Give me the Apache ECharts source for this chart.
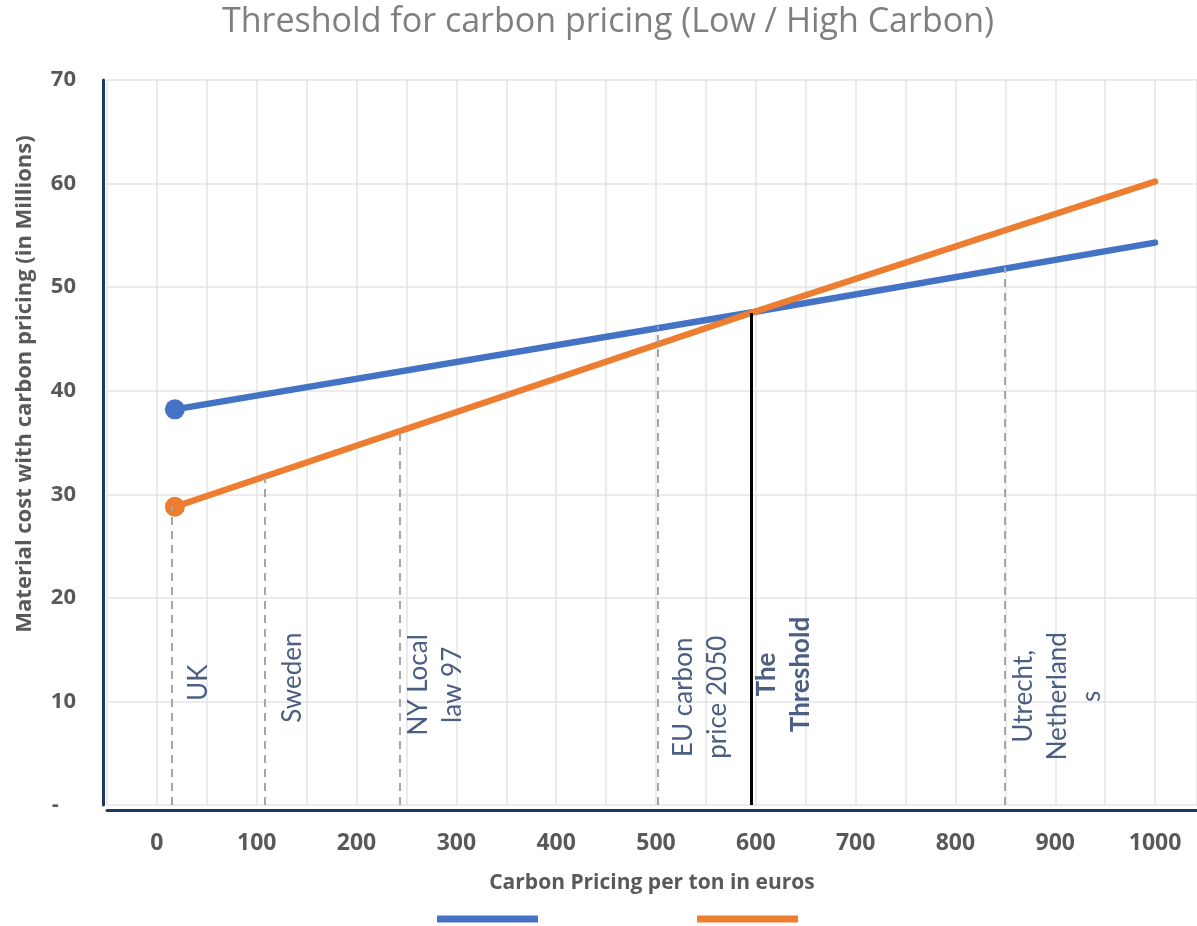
<!DOCTYPE html>
<html>
<head>
<meta charset="utf-8">
<script src="https://cdn.jsdelivr.net/npm/echarts@6/dist/echarts.min.js"></script>
<style>
  html, body { margin: 0; padding: 0; background: #ffffff; }
  #chart { width: 1197px; height: 926px; }
</style>
</head>
<body>
<div id="chart"></div>
<script>
// Carbon price per ton (euros) at which each material cost is sampled
const priceTon = [18, 598, 1000];
// Material cost with carbon pricing, in millions
const lowCarbon = [38.2, 47.6, 54.3];
const highCarbon = [28.8, 47.6, 60.2];

// Reference carbon prices marked on the chart
const refNames = ['UK', 'Sweden', 'NY Local\nlaw 97', 'EU carbon\nprice 2050', 'The\nThreshold', 'Utrecht,\nNetherland\ns'];
const refPrice = [15, 108, 243, 502, 595, 849];
const refTop = [28.8, 31.6, 36.3, 46.2, 47.5, 51.9];

// Axis tick labels
const yTicks = [0, 10, 20, 30, 40, 50, 60, 70];
const xTicks = [0, 100, 200, 300, 400, 500, 600, 700, 800, 900, 1000];

// Where each rotated reference caption sits (data units)
const captionAt = [[42, 11.8], [136, 12.3], [279, 11.6], [545, 10.4], [628, 12.6], [902, 10.5]];
const THRESHOLD = 4;

const GRAY = '#595959';
const NAVY = '#1f3864';

const chart = echarts.init(document.getElementById('chart'));

const refLines = refPrice.map((p, i) => {
  const isThreshold = i === THRESHOLD;
  return [
    { coord: [p, 0], lineStyle: isThreshold
        ? { color: '#000000', width: 3, type: 'solid' }
        : { color: '#a6a6a6', width: 2, type: [8, 6] } },
    { coord: [p, refTop[i]] }
  ];
});

const captions = captionAt.map((c, i) => ({
  name: refNames[i],
  value: c,
  label: i === THRESHOLD ? { fontWeight: 'bold' } : {}
}));

const option = {
  animation: false,
  backgroundColor: '#ffffff',
  title: {
    text: 'Threshold for carbon pricing (Low / High Carbon)',
    left: 603,
    top: 0,
    textAlign: 'center',
    textStyle: { fontFamily: 'Open Sans', fontSize: 34, fontWeight: 'normal', color: '#7f7f7f' }
  },
  legend: {
    data: ['Low Carbon', 'High Carbon'],
    left: 437,
    top: 915.5,
    padding: 0,
    icon: 'rect',
    itemWidth: 101,
    itemHeight: 7,
    itemGap: 159,
    formatter: () => '',
    selectedMode: false
  },
  grid: { left: 107, top: 80, right: 0, height: 725, containLabel: false, outerBoundsMode: 'none' },
  xAxis: {
    type: 'value',
    min: -50,
    max: 1042,
    interval: 50,
    offset: 5,
    name: 'Carbon Pricing per ton in euros',
    nameLocation: 'middle',
    nameGap: 63,
    nameTextStyle: { fontFamily: 'Open Sans', fontSize: 21, fontWeight: 'bold', color: GRAY },
    axisLine: { show: true, onZero: false, lineStyle: { color: NAVY, width: 3 } },
    axisTick: { show: false },
    axisLabel: {
      margin: 22,
      fontFamily: 'Open Sans',
      fontSize: 23,
      fontWeight: 'bold',
      color: GRAY,
      showMaxLabel: false,
      formatter: v => (xTicks.indexOf(v) >= 0 ? String(v) : '')
    },
    splitLine: { show: true, lineStyle: { color: '#e4e4e4', width: 1.5 } }
  },
  yAxis: {
    type: 'value',
    min: 0,
    max: 70,
    interval: 10,
    offset: 4,
    axisLine: { show: true, onZero: false, lineStyle: { color: NAVY, width: 3 } },
    axisTick: { show: false },
    axisLabel: {
      margin: 27,
      fontFamily: 'Open Sans',
      fontSize: 22,
      fontWeight: 'bold',
      color: GRAY,
      formatter: v => (yTicks.indexOf(v) < 0 ? '' : (v === 0 ? '-   ' : String(v)))
    },
    splitLine: { show: true, lineStyle: { color: '#e4e4e4', width: 1.5 } }
  },
  graphic: [{
    type: 'text',
    x: 25,
    y: 384,
    rotation: Math.PI / 2,
    style: {
      text: 'Material cost with carbon pricing (in Millions)',
      fontFamily: 'Open Sans',
      fontSize: 22,
      fontWeight: 'bold',
      fill: GRAY,
      align: 'center',
      verticalAlign: 'middle'
    }
  }],
  series: [
    {
      name: 'refs',
      type: 'line',
      data: [],
      silent: true,
      z: 1,
      markLine: {
        silent: true,
        symbol: ['none', 'none'],
        label: { show: false },
        data: refLines
      }
    },
    {
      name: 'Low Carbon',
      type: 'line',
      z: 3,
      data: priceTon.map((p, i) => [p, lowCarbon[i]]),
      color: '#4472c4',
      lineStyle: { width: 6.5, cap: 'round' },
      symbol: 'circle',
      showSymbol: true,
      symbolSize: (v, p) => (p.dataIndex === 0 ? 20 : 0),
      itemStyle: { color: '#4472c4' }
    },
    {
      name: 'High Carbon',
      type: 'line',
      z: 4,
      data: priceTon.map((p, i) => [p, highCarbon[i]]),
      color: '#ed7d31',
      lineStyle: { width: 6.5, cap: 'round' },
      symbol: 'circle',
      showSymbol: true,
      symbolSize: (v, p) => (p.dataIndex === 0 ? 20 : 0),
      itemStyle: { color: '#ed7d31' }
    },
    {
      name: 'captions',
      type: 'scatter',
      silent: true,
      z: 5,
      symbolSize: 0,
      data: captions,
      label: {
        show: true,
        position: [0, 0],
        align: 'center',
        verticalAlign: 'middle',
        rotate: 90,
        formatter: '{b}',
        fontFamily: 'Lato',
        fontSize: 26,
        lineHeight: 34,
        color: '#1f3763'
      }
    }
  ]
};

chart.setOption(option);
</script>
</body>
</html>
